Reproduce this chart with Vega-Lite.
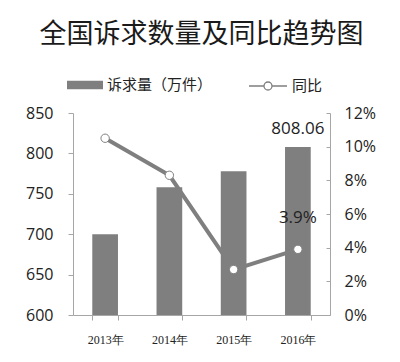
{
  "$schema": "https://vega.github.io/schema/vega-lite/v6.json",
  "width": 257,
  "height": 202,
  "autosize": {"type": "none"},
  "padding": {"left": 73, "top": 113, "right": 70, "bottom": 47},
  "background": "white",
  "title": {
    "text": "全国诉求数量及同比趋势图",
    "font": "Noto Sans CJK SC",
    "fontSize": 27,
    "fontWeight": "normal",
    "color": "#1a1a1a",
    "anchor": "middle",
    "offset": 17
  },
  "config": {
    "view": {"stroke": null},
    "axis": {
      "domainColor": "#a6a6a6",
      "tickColor": "#a6a6a6",
      "grid": false,
      "title": null
    }
  },
  "data": {
    "values": [
      {"年份": "2013年", "诉求量": 700, "同比": 0.105, "量标签": "", "比标签": ""},
      {"年份": "2014年", "诉求量": 758, "同比": 0.083, "量标签": "", "比标签": ""},
      {"年份": "2015年", "诉求量": 778, "同比": 0.027, "量标签": "", "比标签": ""},
      {"年份": "2016年", "诉求量": 808.06, "同比": 0.039, "量标签": "808.06", "比标签": "3.9%"}
    ]
  },
  "encoding": {
    "x": {
      "field": "年份",
      "type": "nominal",
      "sort": null,
      "scale": {"paddingInner": 0.6, "paddingOuter": 0.3},
      "axis": {
        "labelAngle": 0,
        "tickBand": "extent",
        "tickSize": 5,
        "labelPadding": 14,
        "labelFont": "Liberation Serif",
        "labelFontSize": 12,
        "labelColor": "#222222"
      }
    }
  },
  "layer": [
    {
      "encoding": {
        "y": {
          "field": "诉求量",
          "type": "quantitative",
          "scale": {"domain": [600, 850], "zero": false},
          "axis": {
            "orient": "left",
            "values": [600, 650, 700, 750, 800, 850],
            "tickSize": 5,
            "labelPadding": 15,
            "labelFont": "Open Sans",
            "labelFontSize": 16,
            "labelColor": "#222222"
          }
        }
      },
      "layer": [
        {
          "mark": {"type": "bar", "clip": true},
          "encoding": {
            "color": {
              "datum": "诉求量（万件）",
              "scale": {"range": ["#7f7f7f"]},
              "legend": {
                "title": null,
                "orient": "none",
                "legendX": -6,
                "legendY": -46,
                "symbolType": "M-1,-0.23H1V0.23H-1Z",
                "symbolSize": 1296,
                "symbolStrokeWidth": 0,
                "labelFont": "Noto Sans CJK SC",
                "labelFontSize": 15,
                "labelColor": "#222222",
                "labelOffset": 4
              }
            }
          }
        },
        {
          "mark": {"type": "text", "baseline": "middle", "dy": -18, "font": "Open Sans", "fontSize": 17, "color": "#222222"},
          "encoding": {"text": {"field": "量标签"}}
        }
      ]
    },
    {
      "encoding": {
        "y": {
          "field": "同比",
          "type": "quantitative",
          "scale": {"domain": [0, 0.12]},
          "axis": {
            "orient": "right",
            "format": ".0%",
            "values": [0, 0.02, 0.04, 0.06, 0.08, 0.1, 0.12],
            "tickSize": -4,
            "labelPadding": 18,
            "labelFont": "Open Sans",
            "labelFontSize": 16,
            "labelColor": "#222222"
          }
        }
      },
      "layer": [
        {
          "mark": {"type": "line", "strokeWidth": 4},
          "encoding": {
            "stroke": {
              "datum": "同比",
              "scale": {"range": ["#7f7f7f"]},
              "legend": {
                "title": null,
                "orient": "none",
                "legendX": 175,
                "legendY": -47,
                "symbolType": "M-1,0H-0.21A0.21,0.21 0 1,1 0.21,0A0.21,0.21 0 1,1 -0.21,0M0.21,0H1",
                "symbolSize": 1444,
                "symbolStrokeWidth": 1.3,
                "symbolFillColor": "white",
                "labelFont": "Noto Sans CJK SC",
                "labelFontSize": 15,
                "labelColor": "#222222",
                "labelOffset": 4
              }
            }
          }
        },
        {
          "mark": {"type": "point", "filled": true, "fill": "white", "stroke": "#7f7f7f", "strokeWidth": 1, "size": 70, "opacity": 1}
        },
        {
          "mark": {"type": "text", "baseline": "middle", "dy": -31, "font": "Open Sans", "fontSize": 17, "color": "#222222"},
          "encoding": {"text": {"field": "比标签"}}
        }
      ]
    }
  ],
  "resolve": {"scale": {"y": "independent"}}
}
